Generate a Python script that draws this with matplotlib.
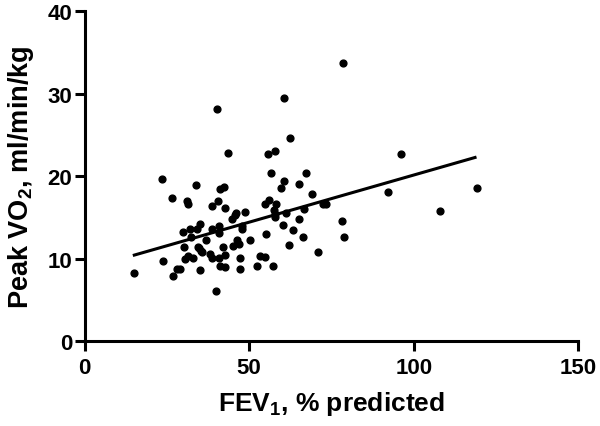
import numpy as np
import matplotlib
matplotlib.use("Agg")
import matplotlib.pyplot as plt

plt.rcParams['font.family'] = ['Liberation Sans', 'DejaVu Sans']
plt.rcParams['font.weight'] = 'bold'
plt.rcParams['mathtext.fontset'] = 'custom'
plt.rcParams['mathtext.bf'] = 'Liberation Sans:bold'
plt.rcParams['mathtext.rm'] = 'Liberation Sans:bold'
plt.rcParams['mathtext.default'] = 'bf'

# FEV1 % predicted vs peak VO2
fev1 = [15.1, 23.5, 23.8, 26.7, 27.0, 28.1, 29.1, 30.0, 30.2, 30.5,
        31.2, 31.4, 31.4, 32.0, 32.3, 32.8, 33.7, 34.2, 34.4, 34.9,
        35.1, 35.1, 35.3, 35.8, 37.0, 38.1, 38.6, 38.8, 38.8, 39.8,
        40.2, 40.5, 40.7, 40.7, 40.7, 41.2, 41.2, 41.9, 42.3, 42.6,
        42.6, 42.8, 43.5, 44.9, 45.1, 45.6, 46.0, 46.3, 47.0, 47.2,
        47.2, 47.7, 47.9, 48.6, 50.2, 52.3, 53.3, 54.7, 54.9, 55.1,
        55.6, 56.0, 56.5, 57.2, 57.4, 57.7, 57.9, 57.9, 58.1, 59.8,
        60.2, 60.5, 60.5, 61.2, 62.1, 62.3, 63.3, 65.1, 65.1, 66.3,
        66.7, 67.4, 69.1, 70.9, 72.3, 73.3, 78.1, 78.6, 78.8, 92.1,
        96.0, 107.9, 119.1]
peak_vo2 = [8.3, 19.7, 9.7, 17.4, 7.9, 8.8, 8.8, 13.3, 11.4, 10.0,
            17.0, 16.6, 10.4, 13.6, 12.6, 10.1, 18.9, 13.6, 11.5, 11.3,
            14.2, 8.6, 11.0, 10.8, 12.3, 10.6, 16.4, 13.6, 10.1, 6.1,
            28.2, 17.0, 14.0, 13.1, 10.1, 18.5, 9.2, 11.4, 18.7, 10.5,
            9.0, 16.2, 22.8, 14.9, 11.6, 15.3, 15.6, 12.3, 11.8, 10.1,
            8.8, 13.6, 14.0, 15.7, 12.3, 9.1, 10.3, 10.2, 16.7, 13.0,
            22.7, 17.2, 20.4, 9.1, 15.9, 15.5, 23.1, 15.1, 16.6, 18.6,
            14.1, 19.4, 29.5, 15.6, 11.7, 24.7, 13.5, 19.1, 14.8, 12.7,
            16.1, 20.4, 17.9, 10.8, 16.6, 16.6, 14.6, 33.8, 12.6, 18.1,
            22.7, 15.8, 18.6]

# regression line as drawn in the figure
slope = 0.1143
intercept = 8.74
line_x = [15.1, 118.6]

fig = plt.figure(figsize=(6, 4.27), dpi=100)
ax = fig.add_axes([0.141, 0.198, 0.823, 0.773])

ax.scatter(fev1, peak_vo2, s=24, color='black', zorder=3)
lx = np.array(line_x)
ax.plot(lx, intercept + slope * lx, color='black', lw=2.2)

ax.set_xlim(0, 150)
ax.set_ylim(0, 40)
ax.set_xticks([0, 50, 100, 150])
ax.set_yticks([0, 10, 20, 30, 40])

for s in ['top', 'right']:
    ax.spines[s].set_visible(False)
for s in ['left', 'bottom']:
    ax.spines[s].set_linewidth(2.2)
ax.tick_params(width=2.2, length=7, labelsize=16, pad=2)
ax.tick_params(axis='x', pad=4)

ax.set_xlabel('FEV$_1$, % predicted', fontsize=19, fontweight='bold', labelpad=8)
ax.set_ylabel('Peak VO$_2$, ml/min/kg', fontsize=19.5, fontweight='bold', labelpad=8)

fig.savefig('out.png', dpi=100)
